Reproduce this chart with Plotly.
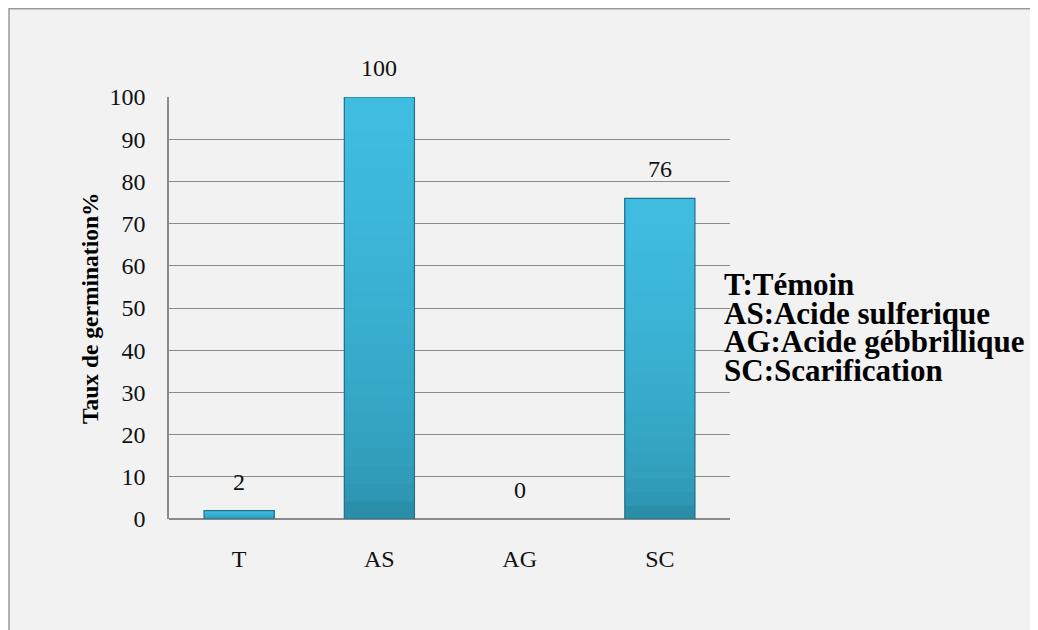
import plotly.graph_objects as go

categories = ["T", "AS", "AG", "SC"]
values = [2, 100, 0, 76]
y_ticks = [0, 10, 20, 30, 40, 50, 60, 70, 80, 90, 100]
legend_lines = ["T:Témoin", "AS:Acide sulferique", "AG:Acide gébbrillique", "SC:Scarification"]
y_title = "Taux de germination%"

# the page body has an 8px margin, so figure coords = page coords - 8
W, H = 1030, 622
L, R, T, B = 161, 722, 89, 511
pw, ph = R - L, B - T

def px_x(p):
    return (p - L) / pw

def px_y(p):
    return (B - p) / ph

font_fam = "Liberation Serif, Times New Roman, serif"

fig = go.Figure()

# vertical gradient inside each bar (dark bottom -> light top); each layer reaches
# the top of the bar so that no seams show between layers
N_SEG = 24
c_bot = (42, 142, 168)
c_top = (63, 189, 225)
for k in range(N_SEG):
    t = (k / (N_SEG - 1)) ** 0.5
    col = "rgb(%d,%d,%d)" % tuple(round(a + (b - a) * t) for a, b in zip(c_bot, c_top))
    fig.add_trace(go.Bar(
        x=categories, y=[v * (N_SEG - k) / N_SEG for v in values],
        base=[v * k / N_SEG for v in values],
        width=0.5, marker=dict(color=col, line=dict(width=0)),
        showlegend=False, hoverinfo="skip",
    ))

# outline
fig.add_trace(go.Bar(
    x=categories, y=values, width=0.5,
    marker=dict(color="rgba(0,0,0,0)",
                line=dict(color="#23708a", width=[1.2 if v > 0 else 0 for v in values])),
    showlegend=False, hoverinfo="x+y",
))

for c, v in zip(categories, values):
    fig.add_annotation(x=c, y=v, text=str(v), showarrow=False, yanchor="bottom",
                       yshift=14, font=dict(family=font_fam, size=24, color="#111111"))

legend_y = [276, 305, 333, 362]
for s, yy in zip(legend_lines, legend_y):
    fig.add_annotation(x=px_x(714), y=px_y(yy), xref="paper", yref="paper",
                       text="<b>%s</b>" % s, showarrow=False, xanchor="left",
                       yanchor="middle", align="left",
                       font=dict(family=font_fam, size=31, color="#000000"))

fig.add_annotation(x=px_x(82), y=px_y(300), xref="paper", yref="paper",
                   text="<b>%s</b>" % y_title, textangle=-90, showarrow=False,
                   xanchor="center", yanchor="middle",
                   font=dict(family=font_fam, size=23.5, color="#000000"))

# outer chart border / background
fig.add_shape(type="rect", xref="paper", yref="paper",
              x0=px_x(1), x1=px_x(1060), y0=px_y(0.75), y1=px_y(660),
              line=dict(color="#9a9a9a", width=1.5), fillcolor="#f2f2f2", layer="below")

fig.update_layout(
    width=W, height=H,
    margin=dict(l=L, r=W - R, t=T, b=H - B, pad=0),
    paper_bgcolor="#ffffff", plot_bgcolor="#f2f2f2",
    barmode="overlay", bargap=0.5,
    font=dict(family=font_fam, size=24, color="#111111"),
    xaxis=dict(showgrid=False, showline=False, zeroline=False, ticks="",
               ticklabelstandoff=23, tickfont=dict(family=font_fam, size=24, color="#111111")),
    yaxis=dict(range=[0, 100], tickvals=y_ticks, showgrid=True, gridcolor="#8a8a8a", gridwidth=1,
               zeroline=True, zerolinecolor="#8a8a8a", zerolinewidth=1.5,
               showline=True, linecolor="#8a8a8a", linewidth=1.5, ticks="",
               ticklabelstandoff=17, tickfont=dict(family=font_fam, size=24, color="#111111")),
)

fig.write_html("out.html")
